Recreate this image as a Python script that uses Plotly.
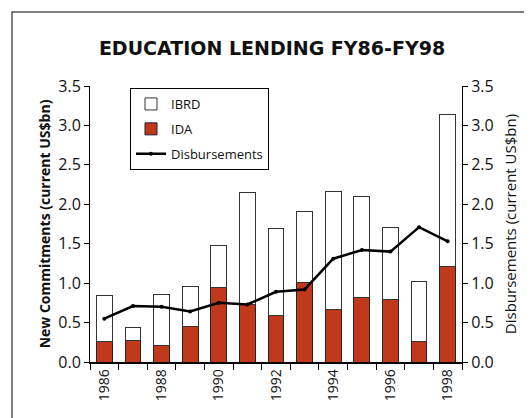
import plotly.graph_objects as go

years = list(range(1986, 1999))
ida = [0.26, 0.27, 0.21, 0.45, 0.95, 0.73, 0.585, 1.01, 0.66, 0.82, 0.79, 0.26, 1.21]
total = [0.84, 0.44, 0.86, 0.96, 1.48, 2.15, 1.69, 1.91, 2.16, 2.10, 1.71, 1.02, 3.14]
ibrd = [round(t - d, 3) for t, d in zip(total, ida)]
disbursements = [0.55, 0.71, 0.70, 0.64, 0.75, 0.73, 0.89, 0.92, 1.31, 1.42, 1.40, 1.71, 1.53]
year_ticks = [1986, 1988, 1990, 1992, 1994, 1996, 1998]

red = "#C0391A"
font_txt = "Open Sans, Liberation Sans, Arial"

fig = go.Figure()

fig.add_trace(go.Bar(x=years, y=ida, name="IDA", width=0.55,
                     marker=dict(color=red, line=dict(color="#222222", width=1)),
                     legendrank=2, legendgroup="b"))
fig.add_trace(go.Bar(x=years, y=ibrd, name="IBRD", width=0.55,
                     marker=dict(color="white", line=dict(color="#333333", width=1)),
                     legendrank=1, legendgroup="a"))
fig.add_trace(go.Scatter(x=years, y=disbursements, name="Disbursements",
                         mode="lines+markers", yaxis="y2",
                         line=dict(color="black", width=2.5),
                         marker=dict(color="black", size=4),
                         legendrank=3, legendgroup="c"))

# page body adds an 8px offset, so pixel targets are shifted by -8
l, r, t, b = 82, 78, 78, 64
pw, ph = 532 - l - r, 418 - t - b

# outer frame (runs off right/bottom edges like the original)
fig.add_shape(type="rect", xref="paper", yref="paper",
              x0=(4 - l) / pw, x1=(560 - l) / pw,
              y0=(418 - b - 450) / ph, y1=1 + (t - 4) / ph,
              line=dict(color="#555555", width=1.5), fillcolor="rgba(0,0,0,0)",
              layer="below")

axis_common = dict(range=[0, 3.5], dtick=0.5, tickformat=".1f",
                   showgrid=False, zeroline=False, showline=True,
                   linecolor="black", linewidth=1, ticks="outside",
                   ticklen=5, tickcolor="black", automargin=False,
                   tickfont=dict(family=font_txt, size=16, color="#111111"))

fig.update_layout(
    width=532, height=418,
    margin=dict(l=l, r=r, t=t, b=b),
    paper_bgcolor="white", plot_bgcolor="white",
    barmode="stack", bargap=0.45,
    title=dict(text="<b>EDUCATION LENDING FY86-FY98</b>",
               x=(264 - l) / pw, xref="paper", xanchor="center",
               y=1 - 40 / 418, yanchor="middle",
               font=dict(family="DejaVu Sans, Arial", size=19, color="#111111")),
    xaxis=dict(range=[1985.5, 1998.5], tickvals=year_ticks,
               ticktext=[str(y) for y in year_ticks], tickangle=-90,
               ticks="", showgrid=False, zeroline=False, showline=True,
               linecolor="black", linewidth=1.5, automargin=False,
               tickfont=dict(family=font_txt, size=14, color="#111111"),
               minor=dict(ticks="outside", tick0=1985.5, dtick=1,
                          ticklen=6, tickcolor="black", showgrid=False)),
    yaxis=dict(title=dict(text="<b>New Commitments (current US$bn)</b>",
                          font=dict(family=font_txt, size=14, color="#111111"),
                          standoff=4),
               **axis_common),
    yaxis2=dict(title=dict(text="Disbursements (current US$bn)",
                           font=dict(family=font_txt, size=15, color="#111111"),
                           standoff=12),
                overlaying="y", side="right", **axis_common),
    legend=dict(x=(122 - l) / pw, y=1 - (80 - t) / ph, xanchor="left", yanchor="top",
                bordercolor="black", borderwidth=1, bgcolor="white",
                font=dict(family=font_txt, size=13, color="#111111"),
                tracegroupgap=5, itemwidth=30),
    showlegend=True,
)

fig.write_html("out.html")
